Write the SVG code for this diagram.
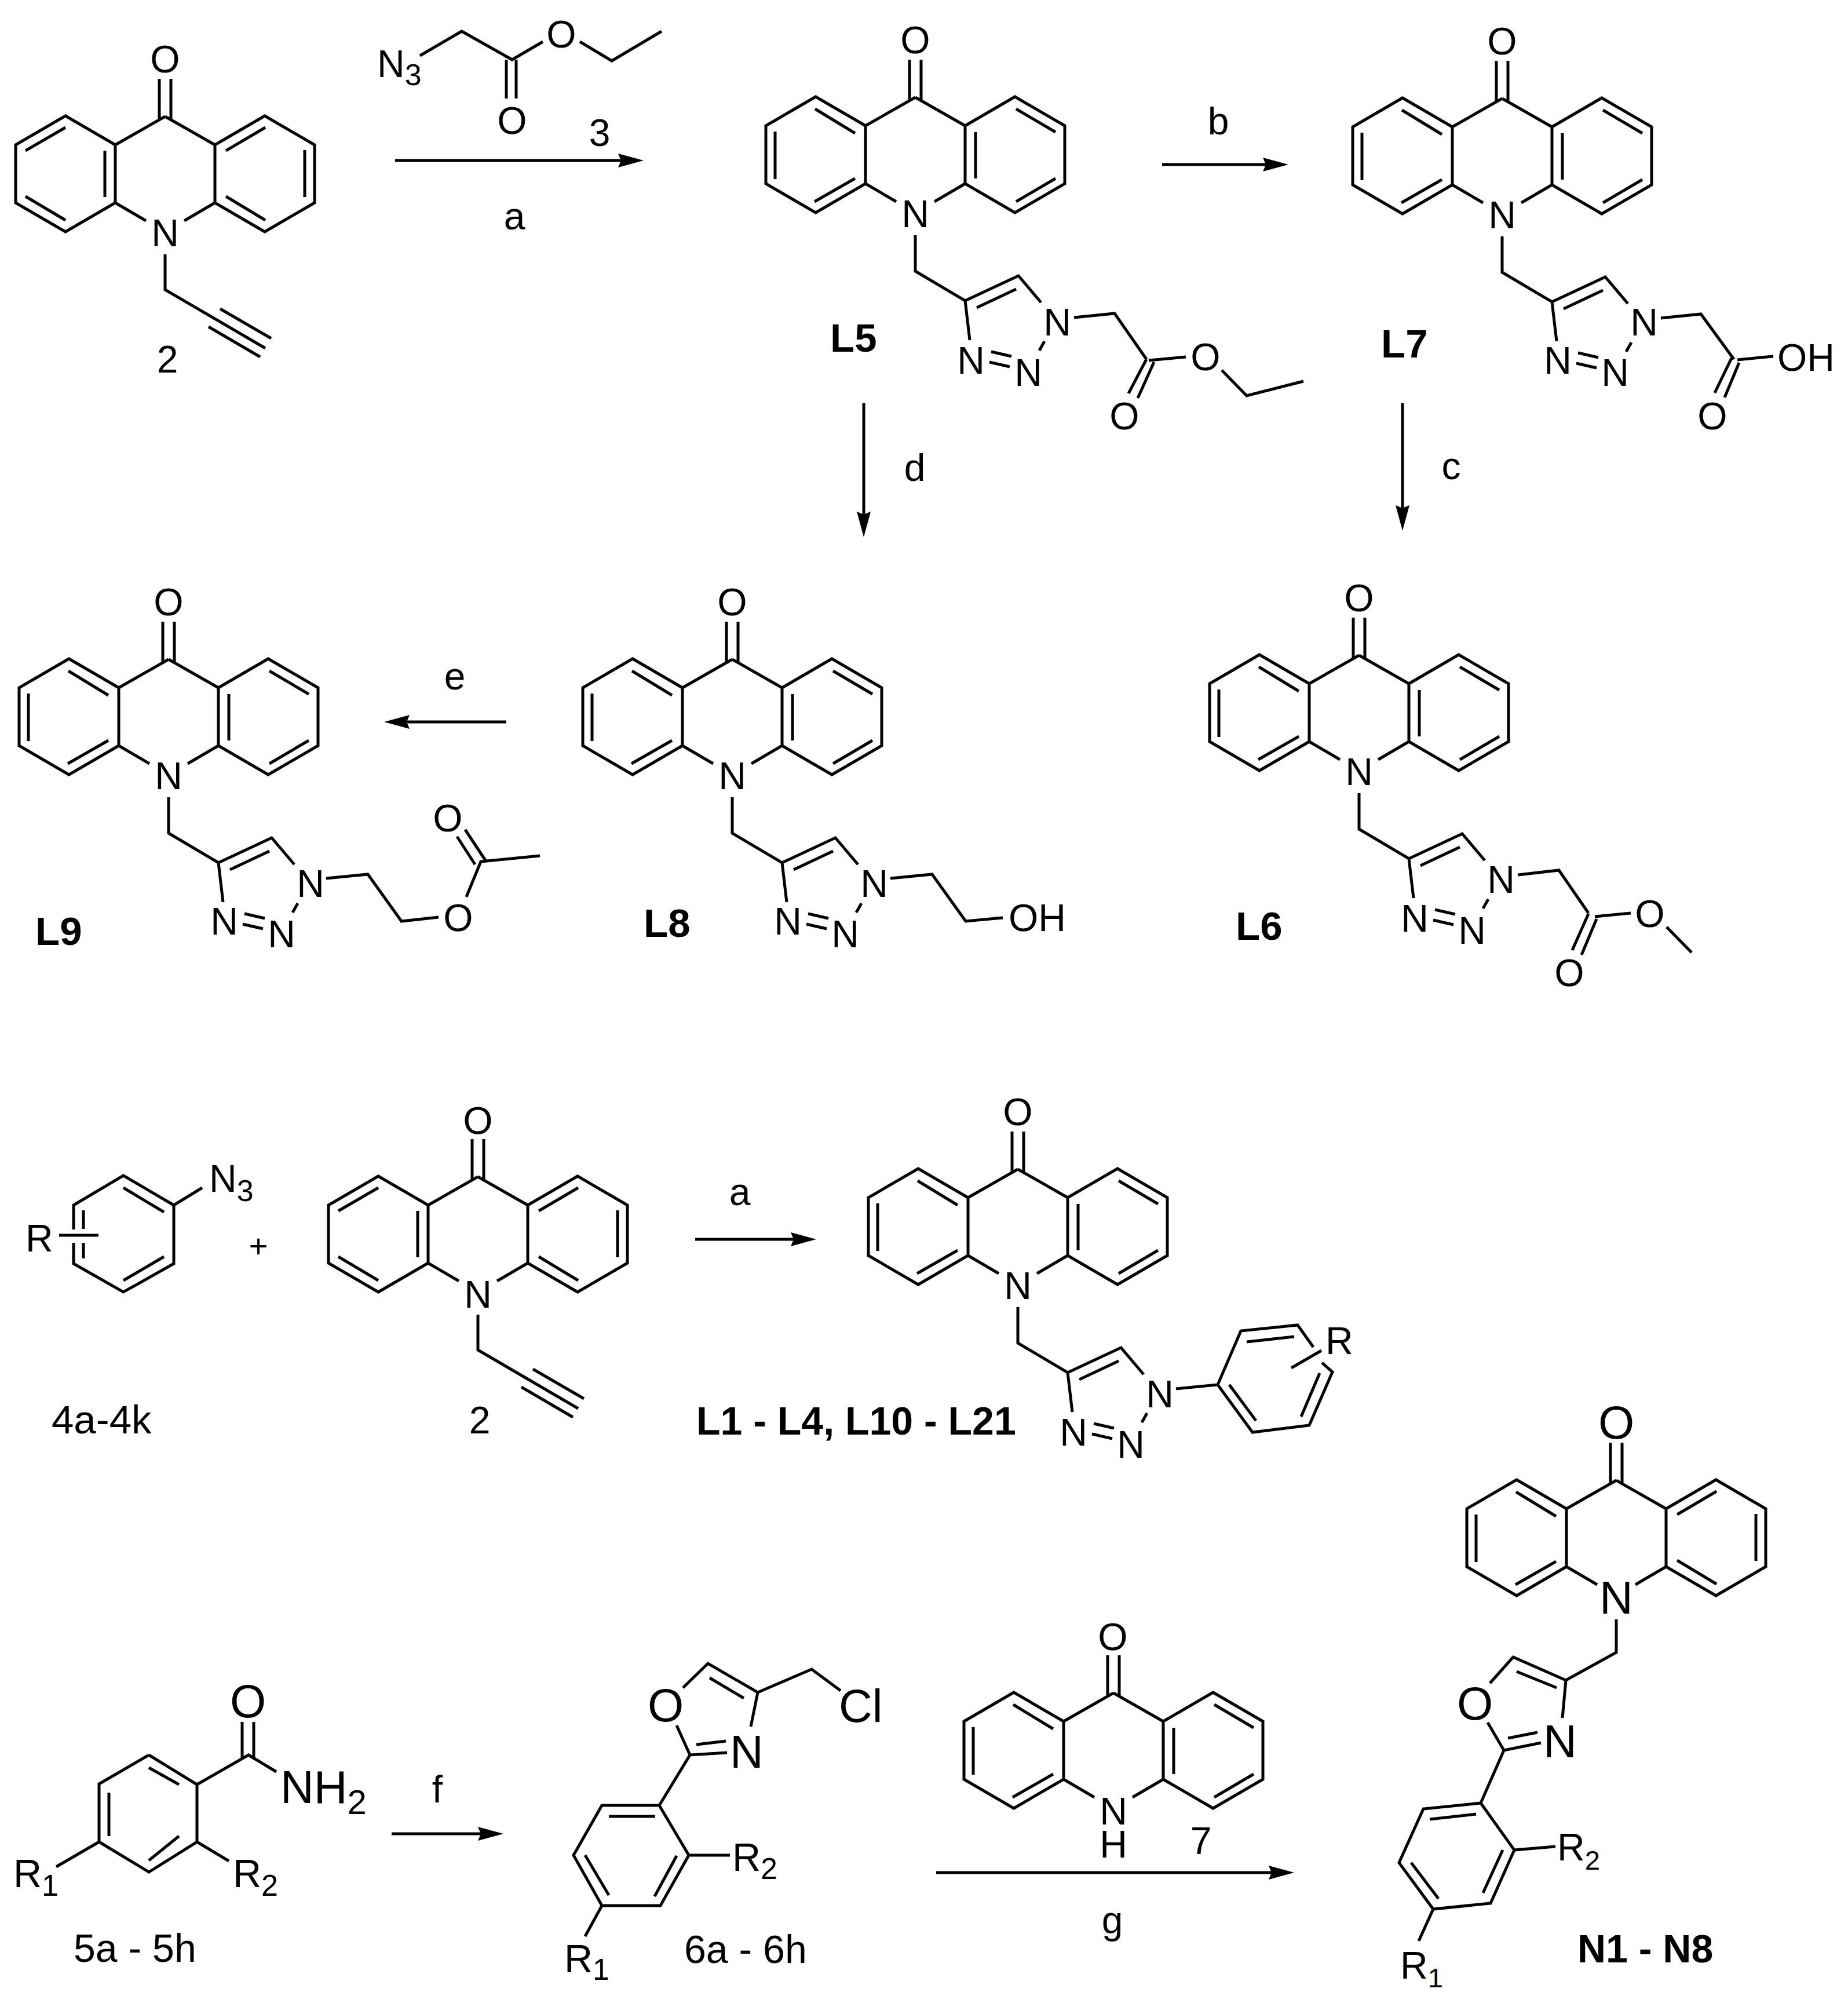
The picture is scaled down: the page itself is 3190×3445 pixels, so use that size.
<svg xmlns="http://www.w3.org/2000/svg" xmlns:xlink="http://www.w3.org/1999/xlink" width="3190" height="3445" viewBox="0 0 3190 3445">
<style>
.bd{fill:none;stroke:#000;stroke-width:5;stroke-linecap:butt;stroke-linejoin:miter}
.ar{fill:none;stroke:#000;stroke-width:5;marker-end:url(#head)}
text{font-family:"Liberation Sans",Arial,sans-serif;font-size:66px;fill:#000}
.m{text-anchor:middle}
.b{font-weight:700;font-size:69px}
.s{font-size:52px}
.l{font-size:80px}
.x{font-size:68px}
</style>
<defs>
<marker id="head" markerUnits="userSpaceOnUse" markerWidth="44" markerHeight="24" refX="14" refY="12" orient="auto"><path d="M44,12 L0,0 L5,12 L0,24 Z" fill="#000"/></marker>
<path id="core" class="bd" d="M0,0 L-86,49 L-172,-1 L-258,49 V149 L-172,199 L-86,149 V49 M0,0 L86,49 L172,-1 L258,49 V149 L172,199 L86,149 V49 M-86,149 L-33,180 M86,149 L33,180 M-10,-65 V6 M10,-65 V6"/>
<path id="innerA" class="bd" d="M-241,59 L-172,19 M-241,138 L-172,179 M-104,59 V139 M105,59 L173,19 M105,138 L173,179 M241,58 V139"/>
<path id="innerB" class="bd" d="M-173,20 L-104,62 M-242,59 V141 M-174,180 L-104,140 M174,20 L242,60 M174,180 L242,140 M104,60 V140"/>
<path id="innerC" class="bd" d="M-173,20 L-104,62 M-242,59 V141 M-174,180 L-104,140 M105,59 L173,19 M105,138 L173,179 M241,58 V139"/>
<path id="alkyne" class="bd" d="M0,238 V299 L173,400 M75,363 L164,415 M95,332 L183,383"/>
<path id="triazole" class="bd" d="M0,238 V300 L86,351 L178,308 L217,354 M106,363 L174,331 M86,351 L94,419 M131,439 L166,447 M128,457 L163,465 M223,421 L214,437"/>
</defs>

<g id="connectors">
<path class="ar" d="M682,277 H1081"/>
<path class="ar" d="M2006,284 H2194"/>
<path class="ar" d="M1491,696 V897"/>
<path class="ar" d="M2421,696 V886"/>
<path class="ar" d="M874,1246 H693"/>
<path class="ar" d="M1200,2139 H1379"/>
<path class="ar" d="M676,3165 H839"/>
<path class="ar" d="M1616,3232 H2204"/>
<text class="m" x="1035" y="252">3</text>
<text class="m" x="888" y="396">a</text>
<text class="m" x="2103" y="232">b</text>
<text class="m" x="1579" y="830">d</text>
<text class="m" x="2505" y="827">c</text>
<text class="m" x="785" y="1190">e</text>
<text class="m" x="1277" y="2080">a</text>
<text class="m" x="755" y="3111">f</text>
<text class="m" x="1920" y="3337">g</text>
</g>

<g id="compound-2-top">
<g transform="translate(285,201)">
<use href="#core"/><use href="#innerA"/><use href="#alkyne"/>
<text class="m" x="0" y="-76">O</text><text class="m" x="0" y="224">N</text>
</g>
<text class="m" x="289" y="643">2</text>
</g>

<g id="reagent-3">
<path class="bd" d="M725,96 L797,54 L884,103 L937,72 M1001,72 L1056,105 L1142,54 M874,103 V170 M891,103 V170"/>
<text x="651" y="133">N<tspan class="s" dy="14">3</tspan></text>
<text class="m" x="969" y="82">O</text>
<text class="m" x="884" y="231">O</text>
</g>

<g id="L5">
<g transform="translate(1580,168)">
<use href="#core"/><use href="#innerB"/><use href="#triazole"/>
<text class="m" x="0" y="-76">O</text><text class="m" x="0" y="224">N</text>
<text class="m" x="96" y="477">N</text><text class="m" x="195" y="498">N</text><text class="m" x="245" y="411">N</text>
</g>
<path class="bd" d="M1854,548 L1924,541 L1979,620 M1983,622 L2047,616 M1979,620 L1948,679 M1992,625 L1964,687 M2109,639 L2152,683 L2250,658"/>
<text class="m" x="2081" y="639">O</text>
<text class="m" x="1941" y="741">O</text>
<text class="b" x="1433" y="607">L5</text>
</g>

<g id="L7">
<g transform="translate(2593,170)">
<use href="#core"/><use href="#innerB"/><use href="#triazole"/>
<text class="m" x="0" y="-76">O</text><text class="m" x="0" y="224">N</text>
<text class="m" x="96" y="475">N</text><text class="m" x="195" y="496">N</text><text class="m" x="245" y="409">N</text>
</g>
<path class="bd" d="M2867,549 L2936,542 L2993,620 M2999,621 L3061,615 M2989,618 L2960,678 M3002,626 L2977,686"/>
<text x="3068" y="640">OH</text>
<text class="m" x="2956" y="741">O</text>
<text class="b" x="2384" y="617">L7</text>
</g>

<g id="L9">
<g transform="translate(291,1138)">
<use href="#core"/><use href="#innerB"/><use href="#triazole"/>
<text class="m" x="0" y="-76">O</text><text class="m" x="0" y="224">N</text>
<text class="m" x="96" y="475">N</text><text class="m" x="195" y="497">N</text><text class="m" x="245" y="410">N</text>
</g>
<path class="bd" d="M563,1516 L635,1509 L693,1590 L757,1583 M805,1548 L830,1487 L932,1477 M820,1492 L789,1444 M838,1485 L803,1432"/>
<text class="m" x="791" y="1607">O</text>
<text class="m" x="773" y="1435">O</text>
<text class="b" x="61" y="1631">L9</text>
</g>

<g id="L8">
<g transform="translate(1264,1138)">
<use href="#core"/><use href="#innerB"/><use href="#triazole"/>
<text class="m" x="0" y="-76">O</text><text class="m" x="0" y="224">N</text>
<text class="m" x="96" y="475">N</text><text class="m" x="195" y="497">N</text><text class="m" x="245" y="410">N</text>
</g>
<path class="bd" d="M1537,1516 L1609,1509 L1667,1590 L1731,1584"/>
<text x="1741" y="1607">OH</text>
<text class="b" x="1111" y="1617">L8</text>
</g>

<g id="L6">
<g transform="translate(2346,1131)">
<use href="#core"/><use href="#innerB"/><use href="#triazole"/>
<text class="m" x="0" y="-76">O</text><text class="m" x="0" y="224">N</text>
<text class="m" x="96" y="477">N</text><text class="m" x="195" y="498">N</text><text class="m" x="245" y="410">N</text>
</g>
<path class="bd" d="M2620,1510 L2691,1502 L2742,1576 M2753,1582 L2815,1576 M2877,1600 L2920,1644 M2742,1577 L2714,1640 M2756,1586 L2730,1648"/>
<text class="m" x="2848" y="1600">O</text>
<text class="m" x="2709" y="1702">O</text>
<text class="b" x="2133" y="1622">L6</text>
</g>

<g id="azide-4">
<path class="bd" d="M127,2122 V2080 L213,2029 L300,2080 V2181 L213,2230 L127,2181 V2145 M144,2089 V2121 M144,2145 V2172 M213,2050 L283,2092 M283,2169 L213,2210 M300,2080 L349,2050 M102,2132 H170"/>
<text x="361" y="2057">N<tspan class="s" dy="16">3</tspan></text>
<text x="44" y="2160">R</text>
<text class="m" x="446" y="2170" style="font-size:56px">+</text>
<text x="89" y="2474" style="font-size:69px">4a-4k</text>
</g>

<g id="compound-2-mid">
<g transform="translate(825,2031)">
<use href="#core"/><use href="#innerA"/><use href="#alkyne"/>
<text class="m" x="0" y="-74">O</text><text class="m" x="0" y="226">N</text>
</g>
<text class="m" x="828" y="2474">2</text>
</g>

<g id="L1-L21">
<g transform="translate(1757,2018)">
<use href="#core"/><use href="#innerB"/><use href="#triazole"/>
<text class="m" x="0" y="-76">O</text><text class="m" x="0" y="224">N</text>
<text class="m" x="96" y="477">N</text><text class="m" x="195" y="498">N</text><text class="m" x="245" y="411">N</text>
</g>
<path class="bd" d="M2030,2397 L2102,2390 L2142,2297 L2240,2287 L2267,2325 M2282,2352 L2300,2368 L2260,2460 L2162,2472 L2102,2390 M2152,2316 L2234,2307 M2278,2370 L2246,2445 M2168,2452 L2122,2390 M2281,2331 L2229,2361"/>
<text x="2288" y="2337">R</text>
<text class="b" x="1202" y="2476" style="font-size:68px">L1 - L4, L10 - L21</text>
</g>

<g id="amide-5">
<path class="bd" d="M257,3029 L340,3080 V3179 L257,3231 L171,3179 V3079 L257,3029 M257,3051 L309,3080 M188,3094 V3169 M257,3211 L309,3169 M340,3080 L429,3029 L477,3058 M418,2972 V3034 M438,2972 V3034 M171,3179 L97,3222 M340,3179 L395,3212"/>
<text class="m l" x="428" y="2964">O</text>
<text class="l" x="484" y="3112">NH<tspan dy="19" style="font-size:60px">2</tspan></text>
<text class="x" x="23" y="3257">R<tspan class="s" dy="15">1</tspan></text>
<text class="x" x="402" y="3257">R<tspan class="s" dy="15">2</tspan></text>
<text class="x" x="127" y="3386">5a - 5h</text>
</g>

<g id="oxazole-6">
<path class="bd" d="M1179,2913 L1222,2871 L1308,2921 L1401,2881 L1451,2918 M1284,2931 L1225,2896 M1308,2921 L1296,2980 M1168,2978 L1191,3029 L1255,3025 M1202,3011 L1253,3005 M1191,3029 L1138,3116 H1039 L990,3202 L1039,3289 H1140 L1189,3202 L1138,3116 M1051,3135 H1131 M1010,3202 L1051,3271 M1130,3273 L1168,3203 M1189,3202 H1260 M1039,3289 L1010,3342"/>
<text class="m l" x="1149" y="2971">O</text>
<text class="m l" x="1289" y="3051">N</text>
<text class="l" x="1448" y="2972">Cl</text>
<text class="x" x="1264" y="3229">R<tspan class="s" dy="14">2</tspan></text>
<text class="x" x="974" y="3404">R<tspan class="s" dy="13">1</tspan></text>
<text class="x" x="1181" y="3388">6a - 6h</text>
</g>

<g id="acridone-7">
<g transform="translate(1922,2922)">
<use href="#core"/><use href="#innerB"/>
<text class="m" x="-1" y="-74">O</text><text class="m" x="0" y="227">N</text><text class="m" x="0" y="284">H</text>
</g>
<text class="m" x="2073" y="3200">7</text>
</g>

<g id="N1-N8">
<g transform="translate(2790,2555)">
<use href="#core"/><use href="#innerC"/>
<text class="m l" x="0" y="-72">O</text><text class="m l" x="0" y="230">N</text>
</g>
<path class="bd" d="M2790,2795 V2852 L2703,2900 L2612,2860 L2572,2905 M2687,2913 L2618,2885 M2703,2900 L2697,2965 M2568,2973 L2596,3021 L2660,3008 M2603,3000 L2654,2990 M2596,3021 L2556,3112 L2457,3122 L2415,3215 L2474,3295 L2573,3285 L2614,3193 L2556,3112 M2468,3140 L2548,3131 M2436,3215 L2483,3277 M2560,3267 L2594,3193 M2614,3193 L2685,3187 M2474,3295 L2449,3350"/>
<text class="m l" x="2546" y="2968">O</text>
<text class="m l" x="2693" y="3033">N</text>
<text x="2688" y="3211">R<tspan dy="16" style="font-size:47px">2</tspan></text>
<text x="2417" y="3415">R<tspan dy="15" style="font-size:47px">1</tspan></text>
<text class="b" x="2723" y="3387" style="font-size:68px">N1 - N8</text>
</g>
</svg>
